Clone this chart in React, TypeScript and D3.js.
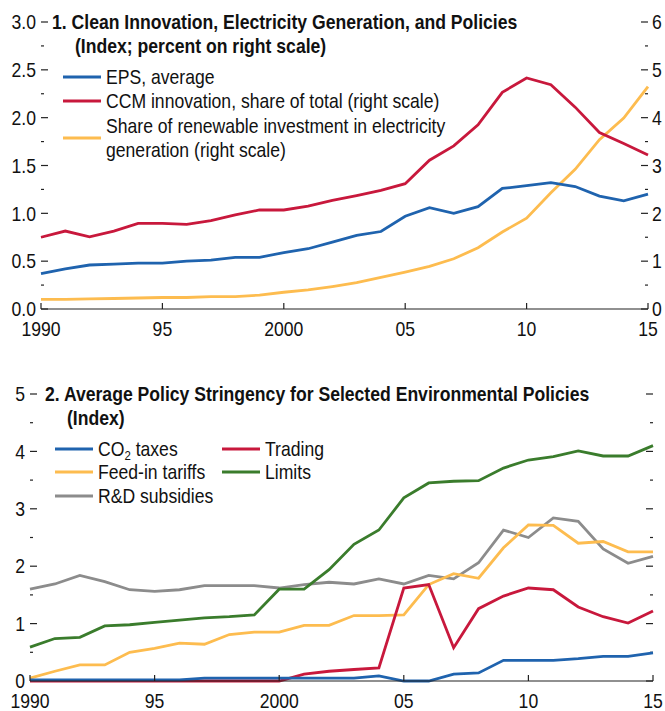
import React, { useEffect, useRef } from "react";
import * as d3 from "d3";

// years on the x axis
const years = [1990, 1991, 1992, 1993, 1994, 1995, 1996, 1997, 1998, 1999, 2000, 2001, 2002,
  2003, 2004, 2005, 2006, 2007, 2008, 2009, 2010, 2011, 2012, 2013, 2014, 2015];
const yearTicks = [1990, 1995, 2000, 2005, 2010, 2015];
const yearLabels = ["1990", "95", "2000", "05", "10", "15"];

// panel 1
const epsAverage = [0.37, 0.42, 0.46, 0.47, 0.48, 0.48, 0.50, 0.51, 0.54, 0.54, 0.59, 0.63, 0.70,
  0.77, 0.81, 0.97, 1.06, 1.00, 1.07, 1.26, 1.29, 1.32, 1.28, 1.18, 1.13, 1.20];
const ccmShare = [1.50, 1.63, 1.51, 1.63, 1.79, 1.79, 1.77, 1.85, 1.97, 2.07, 2.07, 2.15, 2.27,
  2.37, 2.48, 2.62, 3.11, 3.41, 3.85, 4.53, 4.83, 4.69, 4.22, 3.69, 3.46, 3.22];
const renewShare = [0.20, 0.20, 0.21, 0.22, 0.23, 0.24, 0.24, 0.26, 0.26, 0.29, 0.35, 0.40, 0.47,
  0.55, 0.66, 0.77, 0.89, 1.05, 1.28, 1.61, 1.90, 2.43, 2.92, 3.54, 3.99, 4.65];
const leftTicks1 = [0, 0.5, 1, 1.5, 2, 2.5, 3];
const rightTicks1 = [0, 1, 2, 3, 4, 5, 6];

// panel 2
const co2Taxes = [0.02, 0.02, 0.02, 0.02, 0.02, 0.02, 0.02, 0.05, 0.05, 0.05, 0.05, 0.05, 0.05,
  0.05, 0.09, 0.00, 0.00, 0.12, 0.14, 0.36, 0.36, 0.36, 0.39, 0.43, 0.43, 0.49];
const trading = [0, 0, 0, 0, 0, 0, 0, 0, 0, 0, 0, 0.12, 0.17,
  0.20, 0.23, 1.62, 1.68, 0.58, 1.26, 1.48, 1.62, 1.59, 1.29, 1.12, 1.01, 1.22];
const feedIn = [0.05, 0.17, 0.28, 0.28, 0.50, 0.57, 0.66, 0.64, 0.81, 0.85, 0.85, 0.97, 0.97,
  1.14, 1.14, 1.15, 1.68, 1.87, 1.79, 2.32, 2.72, 2.71, 2.40, 2.43, 2.25, 2.25];
const limits = [0.59, 0.74, 0.76, 0.96, 0.98, 1.02, 1.06, 1.10, 1.12, 1.15, 1.60, 1.60, 1.94,
  2.38, 2.63, 3.19, 3.45, 3.48, 3.49, 3.71, 3.85, 3.91, 4.01, 3.92, 3.92, 4.10];
const rdSubsidies = [1.60, 1.69, 1.84, 1.73, 1.59, 1.56, 1.59, 1.66, 1.66, 1.66, 1.62, 1.68, 1.72,
  1.69, 1.78, 1.69, 1.84, 1.78, 2.06, 2.63, 2.50, 2.84, 2.78, 2.30, 2.05, 2.17];
const leftTicks2 = [0, 1, 2, 3, 4, 5];

const BLUE = "#1f63ae";
const RED = "#c8183c";
const GOLD = "#fdbc4f";
const GREEN = "#3a7c2c";
const GREY = "#8c8c8c";
const FONT = '"Liberation Sans", Arial, sans-serif';
const SX = 0.88; // squeeze text horizontally, the original uses a condensed face

export default function App() {
  const ref = useRef<SVGSVGElement>(null);

  useEffect(() => {
    const svg = d3.select(ref.current);
    svg.selectAll("*").remove();

    const line = (x, y) => d3.line<number>().x((d, i) => x(years[i])).y((d) => y(d));

    // condensed text at (x, y), vertically centred on y
    function txt(g, x, y, s, anchor = "start", weight = "normal") {
      return g.append("text")
        .attr("transform", `translate(${x},${y}) scale(${SX},1)`)
        .attr("text-anchor", anchor).attr("dy", "0.36em")
        .attr("font-size", 20).attr("font-weight", weight).text(s);
    }

    function xAxis(g, x, y0) {
      g.append("line").attr("x1", x.range()[0]).attr("x2", x.range()[1])
        .attr("y1", y0).attr("y2", y0).attr("stroke", "#222").attr("stroke-width", 1.2);
      yearTicks.forEach((t, i) => {
        g.append("line").attr("x1", x(t)).attr("x2", x(t)).attr("y1", y0).attr("y2", y0 - 6)
          .attr("stroke", "#222").attr("stroke-width", 1.2);
        txt(g, x(t), y0 + 20, yearLabels[i], "middle");
      });
    }

    function yTicks(g, y, ticks, edge, dir, labels, fmt) {
      ticks.forEach((t, i) => {
        g.append("line").attr("x1", edge).attr("x2", edge + dir * 7)
          .attr("y1", y(t)).attr("y2", y(t)).attr("stroke", "#222").attr("stroke-width", 1.2);
        if (i < ticks.length - 1) {
          const m = (t + ticks[i + 1]) / 2;
          g.append("line").attr("x1", edge).attr("x2", edge + dir * 3)
            .attr("y1", y(m)).attr("y2", y(m)).attr("stroke", "#222").attr("stroke-width", 1.2);
        }
        if (labels) {
          txt(g, dir > 0 ? edge - 5 : edge + 4, y(t), fmt(t), dir > 0 ? "end" : "start");
        }
      });
    }

    function legendItem(g, x, y, color, lines) {
      const ly = y + (lines.length - 1) * 12;
      g.append("line").attr("x1", x).attr("x2", x + 38).attr("y1", ly).attr("y2", ly)
        .attr("stroke", color).attr("stroke-width", 3);
      lines.forEach((s, i) => txt(g, x + 43, y + i * 24, s));
    }

    // ---------- panel 1
    const p1 = svg.append("g").attr("font-family", FONT).attr("fill", "#111");
    const x1 = d3.scaleLinear().domain([1990, 2015]).range([41, 648]);
    const yl1 = d3.scaleLinear().domain([0, 3]).range([309, 22]);
    const yr1 = d3.scaleLinear().domain([0, 6]).range([309, 22]);

    yTicks(p1, yl1, leftTicks1, 41, 1, true, d3.format(".1f"));
    yTicks(p1, yr1, rightTicks1, 648, -1, true, (d) => String(d));

    p1.append("path").datum(renewShare).attr("d", line(x1, yr1))
      .attr("fill", "none").attr("stroke", GOLD).attr("stroke-width", 2.8);
    p1.append("path").datum(ccmShare).attr("d", line(x1, yr1))
      .attr("fill", "none").attr("stroke", RED).attr("stroke-width", 2.8);
    p1.append("path").datum(epsAverage).attr("d", line(x1, yl1))
      .attr("fill", "none").attr("stroke", BLUE).attr("stroke-width", 2.8);

    xAxis(p1, x1, 309);

    txt(p1, 52, 22, "1. Clean Innovation, Electricity Generation, and Policies", "start", "bold");
    txt(p1, 75, 46, "(Index; percent on right scale)", "start", "bold");

    legendItem(p1, 63, 77, BLUE, ["EPS, average"]);
    legendItem(p1, 63, 101, RED, ["CCM innovation, share of total (right scale)"]);
    legendItem(p1, 63, 126, GOLD, ["Share of renewable investment in electricity", "generation (right scale)"]);

    // ---------- panel 2
    const p2 = svg.append("g").attr("font-family", FONT).attr("fill", "#111");
    const x2 = d3.scaleLinear().domain([1990, 2015]).range([30, 653]);
    const y2 = d3.scaleLinear().domain([0, 5]).range([681, 394]);

    yTicks(p2, y2, leftTicks2, 30, 1, true, (d) => String(d));
    yTicks(p2, y2, leftTicks2, 653, -1, false, (d) => String(d));

    [
      [rdSubsidies, GREY],
      [feedIn, GOLD],
      [limits, GREEN],
      [trading, RED],
      [co2Taxes, BLUE],
    ].forEach(([vals, color]) => {
      p2.append("path").datum(vals).attr("d", line(x2, y2))
        .attr("fill", "none").attr("stroke", color).attr("stroke-width", 2.8);
    });

    xAxis(p2, x2, 681);

    txt(p2, 45, 394, "2. Average Policy Stringency for Selected Environmental Policies", "start", "bold");
    txt(p2, 67, 418, "(Index)", "start", "bold");

    p2.append("line").attr("x1", 55).attr("x2", 93).attr("y1", 449).attr("y2", 449)
      .attr("stroke", BLUE).attr("stroke-width", 3);
    const co2t = txt(p2, 98, 449, "");
    co2t.append("tspan").text("CO");
    co2t.append("tspan").attr("font-size", 13).attr("dy", 4).text("2");
    co2t.append("tspan").attr("dy", -4).text(" taxes");

    legendItem(p2, 55, 472, GOLD, ["Feed-in tariffs"]);
    legendItem(p2, 55, 496, GREY, ["R&D subsidies"]);
    legendItem(p2, 222, 449, RED, ["Trading"]);
    legendItem(p2, 222, 472, GREEN, ["Limits"]);
  }, []);

  return (
    <svg ref={ref} width={665} height={711}
      style={{ position: "absolute", left: 0, top: 0, background: "#fff" }} />
  );
}
